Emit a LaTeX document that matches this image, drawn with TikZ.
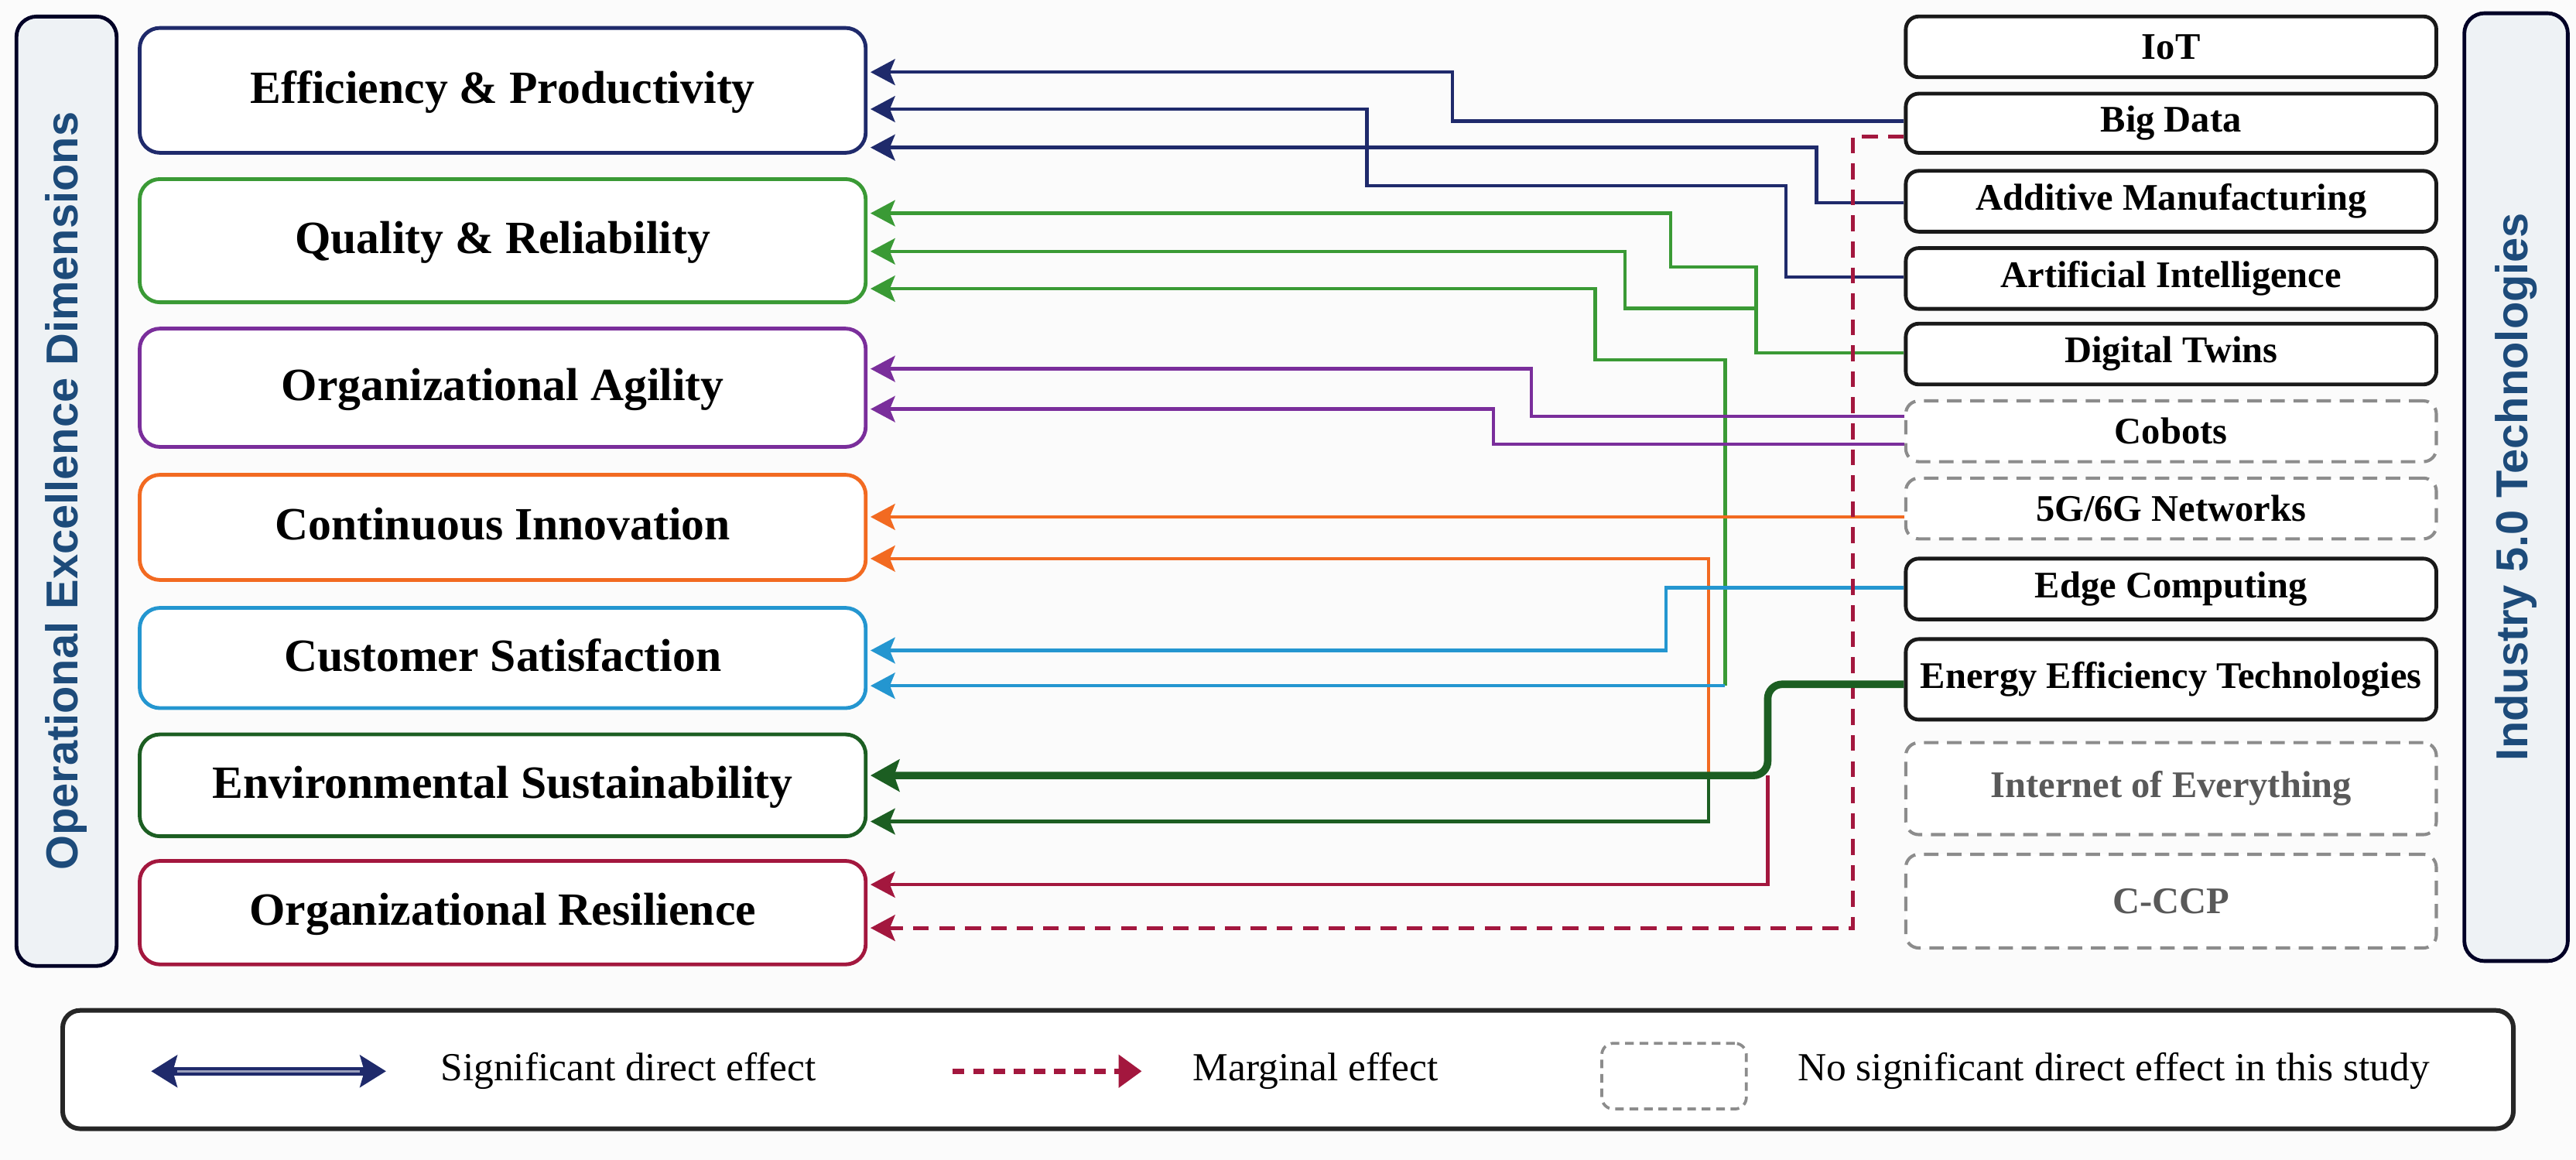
\documentclass[tikz,border=0pt]{standalone}
\usepackage{fontspec}
\setmainfont{Liberation Serif}
\newfontfamily\titlefont{Liberation Sans}
\usetikzlibrary{arrows.meta}

\definecolor{cnavy}{HTML}{1F2A6B}
\definecolor{cqual}{HTML}{3A9A35}
\definecolor{cpurp}{HTML}{7A2E9B}
\definecolor{corange}{HTML}{F26A21}
\definecolor{csky}{HTML}{2496D0}
\definecolor{cdgreen}{HTML}{1C5E22}
\definecolor{ccrim}{HTML}{A3173E}
\definecolor{ctitle}{HTML}{1D4B7A}
\definecolor{ctfill}{HTML}{EEF2F5}
\definecolor{cgrey}{HTML}{8C8C8C}
\definecolor{cbg}{HTML}{FBFBFB}

\begin{document}
\begin{tikzpicture}[x=0.02cm,y=-0.02cm,
  dimbox/.style={draw, rounded corners=7pt, line width=1.3pt, fill=white,
    minimum width=8.84cm, inner sep=0pt, text depth=0.5ex,
    font=\fontsize{16}{19}\selectfont\bfseries},
  techbox/.style={draw=black!90, rounded corners=4.5pt, line width=1.3pt, fill=white,
    minimum width=6.46cm, inner sep=0pt,
    font=\fontsize{13}{15}\selectfont\bfseries},
  nsbox/.style={techbox, draw=cgrey, line width=1.1pt, dash pattern=on 5pt off 3pt},
  titlebox/.style={draw=black!85!blue, rounded corners=7pt, line width=1.3pt, fill=ctfill,
    text=ctitle, inner sep=0pt, font=\titlefont\fontsize{15.5}{18}\selectfont\bfseries},
  sig/.style={line width=1.2pt, -{Stealth[length=8.5pt,width=9pt,inset=1.8pt]}, shorten >=1pt},
  thick/.style={line width=2.6pt, rounded corners=5pt, -{Stealth[length=10pt,width=11pt,inset=1.8pt]}, shorten >=1pt},
  marg/.style={line width=1.3pt, dash pattern=on 5.5pt off 3.5pt, -{Stealth[length=8.5pt,width=9pt,inset=1.8pt]}, shorten >=1pt},
  legtext/.style={anchor=west, font=\fontsize{13.8}{16}\selectfont}
]
\fill[cbg] (0,0) rectangle (1568,706);
\useasboundingbox (0,0) rectangle (1568,706);

% titles
\node[titlebox, rotate=90, minimum width=11.56cm, minimum height=1.22cm] (oed) at (40.5,299) {Operational Excellence Dimensions};
\node[titlebox, rotate=90, minimum width=11.54cm, minimum height=1.26cm] (itt) at (1531.5,296.5) {Industry 5.0 Technologies};

% dimension boxes
\node[dimbox, draw=cnavy,   minimum height=1.52cm] (ep)  at (306,55)    {Efficiency \& Productivity};
\node[dimbox, draw=cqual,   minimum height=1.50cm] (qr)  at (306,146.5) {Quality \& Reliability};
\node[dimbox, draw=cpurp,   minimum height=1.44cm] (oa)  at (306,236)   {Organizational Agility};
\node[dimbox, draw=corange, minimum height=1.28cm] (ci)  at (306,321)   {Continuous Innovation};
\node[dimbox, draw=csky,    minimum height=1.22cm] (cs)  at (306,400.5) {Customer Satisfaction};
\node[dimbox, draw=cdgreen, minimum height=1.24cm] (es)  at (306,478)   {Environmental Sustainability};
\node[dimbox, draw=ccrim,   minimum height=1.26cm] (orr) at (306,555.5) {Organizational Resilience};

% technology boxes
\node[techbox, minimum height=0.74cm] (iot)  at (1321.5,28.5)  {IoT};
\node[techbox, minimum height=0.72cm] (bd)   at (1321.5,75)    {Big Data};
\node[techbox, minimum height=0.74cm] (am)   at (1321.5,122.5) {Additive Manufacturing};
\node[techbox, minimum height=0.74cm] (ai)   at (1321.5,169.5) {Artificial Intelligence};
\node[techbox, minimum height=0.74cm] (dt)   at (1321.5,215.5) {Digital Twins};
\node[nsbox,   minimum height=0.74cm] (cob)  at (1321.5,262.5) {Cobots};
\node[nsbox,   minimum height=0.74cm] (net)  at (1321.5,309.5) {5G/6G Networks};
\node[techbox, minimum height=0.74cm] (edge) at (1321.5,358.5) {Edge Computing};
\node[techbox, minimum height=0.98cm] (eet)  at (1321.5,413.5) {Energy Efficiency Technologies};
\node[nsbox, text=black!65, minimum height=1.12cm] (ioe) at (1321.5,480)   {Internet of Everything};
\node[nsbox, text=black!65, minimum height=1.14cm] (ccp) at (1321.5,548.5) {C-CCP};

% junction coordinates
\coordinate (jqc) at (1050,417.4);
\coordinate (jce) at (1040,470);
\coordinate (jer) at (1076,472);

% Efficiency & Productivity
\draw[sig, cnavy] (bd.west |- 0,73.8) -| (884,43.9) -- (ep.east |- 0,43.9);
\draw[sig, cnavy] (ai.west |- 0,168.5) -| (1087,113) -| (832,66.4) -- (ep.east |- 0,66.4);
\draw[sig, cnavy] (am.west |- 0,123.4) -| (1105.6,89.8) -- (ep.east |- 0,89.8);

% Quality & Reliability
\draw[sig, cqual] (dt.west |- 0,214.7) -| (1069,162.5) -| (1017,129.8) -- (qr.east |- 0,129.8);
\draw[sig, cqual] (dt.west |- 0,214.7) -| (1069,187.6) -| (989,153) -- (qr.east |- 0,153);
\draw[sig, cqual] (jqc) -- (1050,219) -| (971,175.7) -- (qr.east |- 0,175.7);

% Organizational Agility
\draw[sig, cpurp] (cob.west |- 0,253.4) -| (932,224.5) -- (oa.east |- 0,224.5);
\draw[sig, cpurp] (cob.west |- 0,270.4) -| (909,249) -- (oa.east |- 0,249);

% Continuous Innovation
\draw[sig, corange] (net.west |- 0,314.6) -- (ci.east |- 0,314.6);
\draw[sig, corange] (jce) -- (1040,340) -- (ci.east |- 0,340);

% Customer Satisfaction
\draw[sig, csky] (edge.west |- 0,357.8) -| (1014,395.9) -- (cs.east |- 0,395.9);
\draw[sig, csky] (jqc) -- (cs.east |- 0,417.4);

% Organizational Resilience
\draw[sig, ccrim] (jer) -- (1076,538.4) -- (orr.east |- 0,538.4);
\draw[marg, ccrim] (bd.west |- 0,83) -| (1128,564.8) -- (orr.east |- 0,564.8);

% Environmental Sustainability
\draw[sig, cdgreen] (jce) -- (1040,500) -- (es.east |- 0,500);
\draw[thick, cdgreen] (eet.west |- 0,416.5) -| (jer) -- (es.east |- 0,472);

% legend
\node[draw=black!85, line width=1.6pt, rounded corners=6pt, fill=white,
  minimum width=29.84cm, minimum height=1.44cm] (leg) at (784,651) {};
\coordinate (la1) at (92,652);
\coordinate (la2) at (235,652);
\draw[cnavy, line width=3pt, {Stealth[length=9pt,width=11pt,inset=1.5pt]}-{Stealth[length=9pt,width=11pt,inset=1.5pt]}] (la1) -- (la2);
\draw[white!55!cnavy, line width=0.8pt] ([xshift=9pt]la1) -- ([xshift=-9pt]la2);
\node[legtext] (lt1) at (262,652) {Significant direct effect};
\coordinate (lm1) at (580,652);
\coordinate (lm2) at (695,652);
\draw[ccrim, line width=2pt, dash pattern=on 4pt off 3pt, -{Triangle[length=8pt,width=11pt]}] (lm1) -- (lm2);
\node[legtext] (lt2) at (720,652) {Marginal effect};
\node[draw=cgrey, dash pattern=on 3pt off 2pt, rounded corners=4pt, line width=1pt,
  minimum width=1.76cm, minimum height=0.8cm] (lsq) at (1019,655) {};
\node[legtext] (lt3) at (1088,652) {No significant direct effect in this study};
\end{tikzpicture}
\end{document}
